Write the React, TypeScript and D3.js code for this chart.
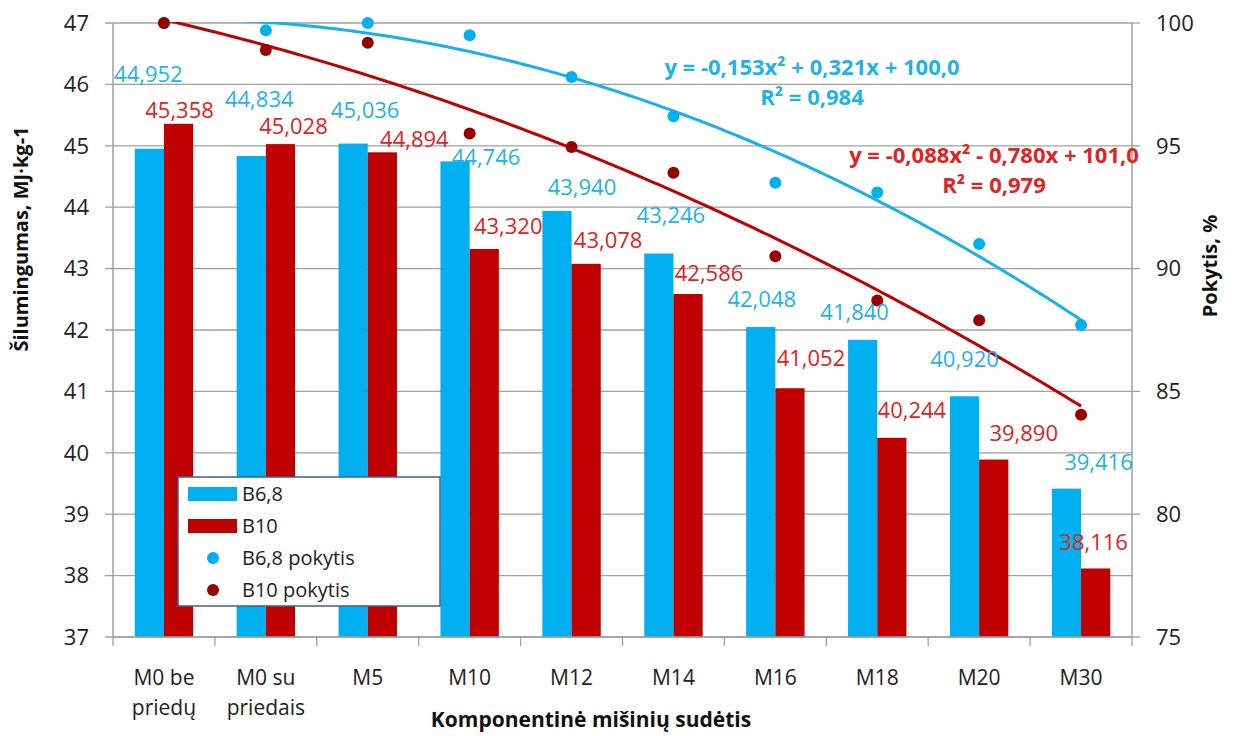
import React from 'react';
import * as d3 from 'd3';

// categories and values
const categories = ['M0 be priedų', 'M0 su priedais', 'M5', 'M10', 'M12', 'M14', 'M16', 'M18', 'M20', 'M30'];
const seriesNames = ['B6,8', 'B10'];
const b68 = [44.952, 44.834, 45.036, 44.746, 43.94, 43.246, 42.048, 41.84, 40.92, 39.416];
const b10 = [45.358, 45.028, 44.894, 43.32, 43.078, 42.586, 41.052, 40.244, 39.89, 38.116];
const b68Change = [100, 99.7, 100, 99.5, 97.8, 96.2, 93.5, 93.1, 91.0, 87.7];
const b10Change = [100, 98.9, 99.2, 95.5, 94.95, 93.9, 90.5, 88.7, 87.9, 84.05];
// quadratic trend coefficients [a, b, c] for y = a*x^2 + b*x + c
const b68Trend = [-0.153, 0.321, 100.0];
const b10Trend = [-0.088, -0.78, 101.0];
const b68R2 = 0.984;
const b10R2 = 0.979;
const leftTicks = [37, 38, 39, 40, 41, 42, 43, 44, 45, 46, 47];
const rightTicks = [75, 80, 85, 90, 95, 100];

// label nudges (px) as the labels were moved by hand in the original
const b68LabelNudge = [[-1, -74], [8, -57], [12, -33], [31, -4], [25, -24], [12, -38], [1, -28], [-8, -28], [0, -37], [32, -26]];
const b10LabelNudge = [[1, -14], [13, -18], [32, -13], [24, -23], [22, -24], [21, -21], [21, -30], [20, -28], [30, -26], [-2, -26]];

const W = 1235;
const H = 736;
const left = 113;
const right = 1132;
const top = 23;
const bottom = 637;

const BLUE = '#00B0F0';
const RED = '#C00000';
const BLUE_TXT = '#1FB3EA';
const RED_TXT = '#E02424';
const DOT_RED = '#990000';
const GRID = '#A0A0A0';
const FONT = '"Open Sans", "Noto Sans", sans-serif';

const fmt = (v: number) => v.toFixed(3).replace('.', ',');
const fmt1 = (v: number) => v.toFixed(1).replace('.', ',');

export default function App() {
  const x = d3.scaleBand<string>().domain(categories).range([left, right]);
  const xi = d3.scaleBand<string>().domain(seriesNames).range([0, x.bandwidth()]).paddingOuter(0.745);
  const yL = d3.scaleLinear().domain([37, 47]).range([bottom, top]);
  const yR = d3.scaleLinear().domain([75, 100]).range([bottom, top]);
  const xt = d3.scaleLinear()
    .domain([1, categories.length])
    .range([x(categories[0])! + x.bandwidth() / 2, x(categories[categories.length - 1])! + x.bandwidth() / 2]);

  const trendPath = (coef: number[]) => {
    const pts = d3.range(1, categories.length + 0.001, 0.05).map((t) => [t, coef[0] * t * t + coef[1] * t + coef[2]]);
    return d3.line<number[]>().x((d) => xt(d[0])).y((d) => yR(d[1]))(pts);
  };

  const bw = xi.bandwidth();
  const series = [
    { name: seriesNames[0], values: b68, color: BLUE, txt: BLUE_TXT, nudge: b68LabelNudge },
    { name: seriesNames[1], values: b10, color: RED, txt: RED_TXT, nudge: b10LabelNudge },
  ];

  return (
    <svg width={W} height={H} style={{ position: 'absolute', left: 0, top: 0, background: '#fff' }} fontFamily={FONT}>
      <defs>
        <clipPath id="plot">
          <rect x={left} y={top - 1} width={right - left} height={bottom - top + 1} />
        </clipPath>
      </defs>

      {/* gridlines + left ticks */}
      {leftTicks.map((t) => (
        <g key={t}>
          <line x1={left - 8} x2={right} y1={yL(t)} y2={yL(t)} stroke={GRID} strokeWidth={1.3} />
          <text x={89} y={yL(t)} dy="0.35em" textAnchor="end" fontSize={22} fill="#222">{t}</text>
        </g>
      ))}
      {rightTicks.map((t) => (
        <g key={t}>
          <line x1={right} x2={right + 8} y1={yR(t)} y2={yR(t)} stroke={GRID} strokeWidth={1.3} />
          <text x={1156} y={yR(t)} dy="0.35em" textAnchor="start" fontSize={22} fill="#222">{t}</text>
        </g>
      ))}

      {/* bars */}
      {series.map((s) => (
        <g key={s.name} fill={s.color}>
          {s.values.map((v, i) => (
            <rect key={i} x={x(categories[i])! + xi(s.name)!} y={yL(v)} width={bw} height={bottom - yL(v)} />
          ))}
        </g>
      ))}

      {/* axes */}
      <line x1={left} x2={left} y1={top} y2={bottom} stroke={GRID} strokeWidth={1.5} />
      <line x1={right} x2={right} y1={top} y2={bottom} stroke={GRID} strokeWidth={1.5} />
      <line x1={left} x2={right} y1={bottom} y2={bottom} stroke={GRID} strokeWidth={1.5} />
      {d3.range(categories.length + 1).map((i) => {
        const px = left + i * x.step();
        return <line key={i} x1={px} x2={px} y1={bottom} y2={bottom + 9} stroke={GRID} strokeWidth={1.3} />;
      })}

      {/* trendlines */}
      <g clipPath="url(#plot)" fill="none" strokeWidth={3}>
        <path d={trendPath(b68Trend) || ''} stroke="#1AB0EC" />
        <path d={trendPath(b10Trend) || ''} stroke={RED} />
      </g>

      {/* change points */}
      {b68Change.map((v, i) => (
        <circle key={'b' + i} cx={xt(i + 1)} cy={yR(v)} r={6} fill={BLUE} />
      ))}
      {b10Change.map((v, i) => (
        <circle key={'r' + i} cx={xt(i + 1)} cy={yR(v)} r={6} fill={DOT_RED} />
      ))}

      {/* data labels */}
      {series.map((s) => (
        <g key={s.name + 'lbl'} fill={s.txt} fontSize={22} textAnchor="middle">
          {s.values.map((v, i) => (
            <text key={i} x={x(categories[i])! + xi(s.name)! + bw / 2 + s.nudge[i][0]} y={yL(v) + s.nudge[i][1]} dy="0.35em">
              {fmt(v)}
            </text>
          ))}
        </g>
      ))}

      {/* category labels */}
      {categories.map((c) => {
        const cx = x(c)! + x.bandwidth() / 2;
        const cut = c.lastIndexOf(' ');
        const lines = c.split(' ').length > 2 ? [c.slice(0, cut), c.slice(cut + 1)] : [c];
        return (
          <text key={c} x={cx} y={678} textAnchor="middle" fontSize={21} fill="#222">
            {lines.map((l, k) => (
              <tspan key={k} x={cx} dy={k === 0 ? '0.35em' : 30}>{l}</tspan>
            ))}
          </text>
        );
      })}

      {/* axis titles */}
      <text x={591} y={720} dy="0.35em" textAnchor="middle" fontSize={21} fontWeight="bold" fill="#111">
        Komponentinė mišinių sudėtis
      </text>
      <text transform="translate(21,239) rotate(-90)" dy="0.35em" textAnchor="middle" fontSize={20} fontWeight="bold" fill="#111">
        Šilumingumas, MJ·kg-1
      </text>
      <text transform="translate(1210,266) rotate(-90)" dy="0.35em" textAnchor="middle" fontSize={20} fontWeight="bold" fill="#111">
        Pokytis, %
      </text>

      {/* trend equations */}
      <g fontSize={22} fontWeight="bold" textAnchor="middle">
        <text x={812} y={67} dy="0.35em" fill={BLUE_TXT}>
          y = {fmt(b68Trend[0])}x² + {fmt(b68Trend[1])}x + {fmt1(b68Trend[2])}
        </text>
        <text x={812} y={97} dy="0.35em" fill={BLUE_TXT}>R² = {fmt(b68R2)}</text>
        <text x={994} y={155} dy="0.35em" fill={RED_TXT}>
          y = {fmt(b10Trend[0])}x² - {fmt(-b10Trend[1])}x + {fmt1(b10Trend[2])}
        </text>
        <text x={994} y={185} dy="0.35em" fill={RED_TXT}>R² = {fmt(b10R2)}</text>
      </g>

      {/* legend */}
      <g>
        <rect x={178} y={477} width={262} height={129} fill="#fff" stroke="#3F5F8F" strokeWidth={1.5} />
        <rect x={188} y={487} width={49} height={14} fill={BLUE} />
        <text x={242} y={494} dy="0.35em" fontSize={20} fill="#222">{seriesNames[0]}</text>
        <rect x={188} y={519} width={49} height={14} fill={RED} />
        <text x={242} y={526} dy="0.35em" fontSize={20} fill="#222">{seriesNames[1]}</text>
        <circle cx={213} cy={558} r={6} fill={BLUE} />
        <text x={242} y={558} dy="0.35em" fontSize={20} fill="#222">{seriesNames[0]} pokytis</text>
        <circle cx={213} cy={590} r={6} fill={DOT_RED} />
        <text x={242} y={590} dy="0.35em" fontSize={20} fill="#222">{seriesNames[1]} pokytis</text>
      </g>
    </svg>
  );
}
